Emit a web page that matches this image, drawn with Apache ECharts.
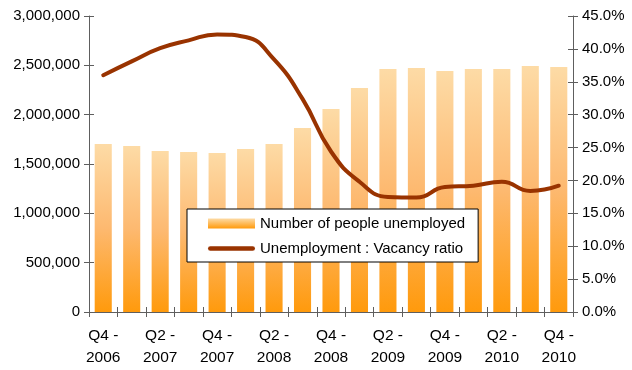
<!DOCTYPE html>
<html>
<head>
<meta charset="utf-8">
<script src="https://cdn.jsdelivr.net/npm/echarts@6/dist/echarts.min.js"></script>
<style>
  html, body { margin: 0; padding: 0; background: #fff; }
  #chart { width: 632px; height: 370px; }
</style>
</head>
<body>
<div id="chart"></div>
<script>
// Quarterly categories, Q4 2006 to Q4 2010
const quarters = [
  'Q4 - 2006', 'Q1 - 2007', 'Q2 - 2007', 'Q3 - 2007', 'Q4 - 2007',
  'Q1 - 2008', 'Q2 - 2008', 'Q3 - 2008', 'Q4 - 2008',
  'Q1 - 2009', 'Q2 - 2009', 'Q3 - 2009', 'Q4 - 2009',
  'Q1 - 2010', 'Q2 - 2010', 'Q3 - 2010', 'Q4 - 2010'
];

// Number of people unemployed
const unemployed = [
  1703000, 1682000, 1632000, 1622000, 1611000,
  1652000, 1703000, 1865000, 2057000,
  2270000, 2463000, 2473000, 2443000,
  2463000, 2463000, 2493000, 2483000
];

// Unemployment : vacancy ratio, percent
const uvRatio = [
  36.0, 38.1, 40.1, 41.3, 42.2,
  41.8, 38.4, 32.4, 24.4,
  19.8, 17.5, 17.4, 19.0,
  19.2, 19.8, 18.4, 19.2
];

const leftTicks = { min: 0, max: 3000000, step: 500000 };
const rightTicks = { min: 0, max: 45, step: 5 };

const seriesNames = ['Number of people unemployed', 'Unemployment : Vacancy ratio'];

const FONT = 'Liberation Sans, Arial, sans-serif';
const AXIS_COLOR = '#5e5e5e';
const LINE_COLOR = '#993300';
const TICK_LEN = 5;

const barGradient = new echarts.graphic.LinearGradient(0, 0, 0, 1, [
  { offset: 0, color: '#fddba6' },
  { offset: 0.5, color: '#fdb970' },
  { offset: 1, color: '#ff9a0c' }
]);

const legendGradient = new echarts.graphic.LinearGradient(0, 0, 0, 1, [
  { offset: 0, color: '#fddba6' },
  { offset: 1, color: '#ff9a0c' }
]);

// Ticks that straddle the axis line: the outer half comes from the main axis,
// the inner half from a bare twin axis with inside ticks.
function innerTwin(base) {
  return Object.assign({}, base, {
    axisLine: { show: false },
    axisLabel: { show: false },
    splitLine: { show: false },
    axisTick: { show: true, inside: true, length: TICK_LEN, interval: 0, lineStyle: { color: AXIS_COLOR } },
    z: 5
  });
}

const xBase = { type: 'category', data: quarters, boundaryGap: true, position: 'bottom' };
const yLeftBase = { type: 'value', position: 'left', min: leftTicks.min, max: leftTicks.max, interval: leftTicks.step };
const yRightBase = { type: 'value', position: 'right', min: rightTicks.min, max: rightTicks.max, interval: rightTicks.step };

const chart = echarts.init(document.getElementById('chart'), null, { renderer: 'canvas' });

chart.setOption({
  animation: false,
  textStyle: { fontFamily: FONT },
  grid: { left: 89, right: 59, top: 16, bottom: 58 },
  legend: {
    left: 187,
    top: 209,
    orient: 'vertical',
    backgroundColor: '#ffffff',
    borderColor: '#000000',
    borderWidth: 1,
    borderRadius: 0,
    padding: [7, 13, 6, 21],
    itemGap: 10,
    itemWidth: 47,
    itemHeight: 10,
    z: 10,
    textStyle: { fontSize: 15, color: '#000', fontFamily: FONT, lineHeight: 13 },
    data: [
      { name: seriesNames[0], icon: 'rect', itemStyle: { color: legendGradient } },
      { name: seriesNames[1], icon: 'path://M2.5,0 L47.5,0 A2.5,2.5 0 0 1 47.5,5 L2.5,5 A2.5,2.5 0 0 1 2.5,0 Z', itemStyle: { color: LINE_COLOR } }
    ]
  },
  xAxis: [
    Object.assign({}, xBase, {
      z: 5,
      axisLine: { lineStyle: { color: AXIS_COLOR, width: 1 } },
      axisTick: { show: true, length: TICK_LEN, interval: 0, lineStyle: { color: AXIS_COLOR } },
      axisLabel: {
        interval: 1,
        margin: 13,
        fontSize: 15.5,
        color: '#000',
        lineHeight: 22,
        formatter: v => v.replace(' - ', ' -\n')
      }
    }),
    innerTwin(xBase)
  ],
  yAxis: [
    Object.assign({}, yLeftBase, {
      z: 5,
      splitLine: { show: false },
      axisLine: { show: true, lineStyle: { color: AXIS_COLOR } },
      axisTick: { show: true, length: TICK_LEN, lineStyle: { color: AXIS_COLOR } },
      axisLabel: {
        margin: 9,
        fontSize: 15,
        color: '#000',
        formatter: v => v.toLocaleString('en-US')
      }
    }),
    Object.assign({}, yRightBase, {
      z: 5,
      splitLine: { show: false },
      axisLine: { show: true, lineStyle: { color: AXIS_COLOR } },
      axisTick: { show: true, length: TICK_LEN, lineStyle: { color: AXIS_COLOR } },
      axisLabel: {
        margin: 9,
        fontSize: 15,
        color: '#000',
        formatter: v => v.toFixed(1) + '%'
      }
    }),
    innerTwin(yLeftBase),
    innerTwin(yRightBase)
  ],
  series: [
    {
      name: seriesNames[0],
      type: 'bar',
      xAxisIndex: 0,
      yAxisIndex: 0,
      data: unemployed,
      barCategoryGap: '40%',
      itemStyle: { color: barGradient }
    },
    {
      name: seriesNames[1],
      type: 'line',
      xAxisIndex: 0,
      yAxisIndex: 1,
      data: uvRatio,
      smooth: 0.5,
      showSymbol: false,
      symbol: 'none',
      itemStyle: { color: LINE_COLOR },
      lineStyle: { color: LINE_COLOR, width: 4, cap: 'round', join: 'round' },
      z: 3
    }
  ]
});
</script>
</body>
</html>
